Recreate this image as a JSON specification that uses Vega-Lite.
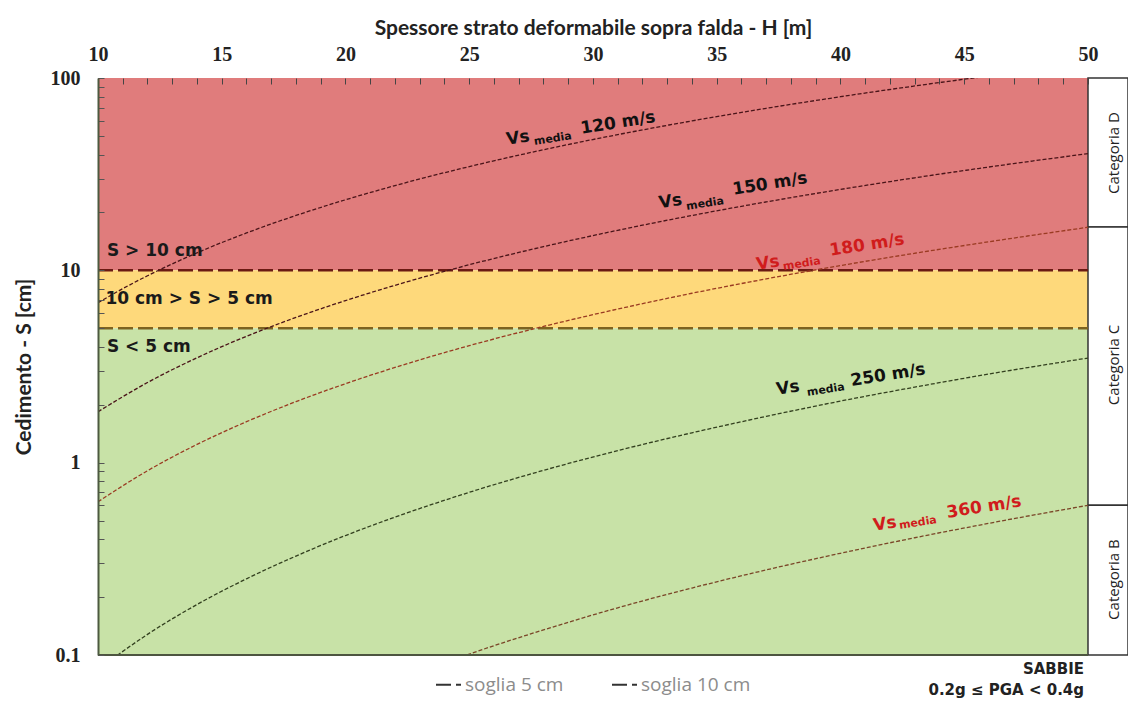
{
  "$schema": "https://vega.github.io/schema/vega-lite/v6.json",
  "autosize": "none",
  "padding": {"left": 98, "top": 78, "right": 0, "bottom": 46},
  "width": 1030,
  "height": 577,
  "background": "white",
  "config": {"view": {"stroke": null}, "axis": {"zindex": 1, "labelOverlap": false, "labelFlush": false, "grid": false}},
  "datasets": {
    "zones": [
      {"zona": "S > 10 cm", "S1": 10, "S2": 100},
      {"zona": "10 cm > S > 5 cm", "S1": 5, "S2": 10},
      {"zona": "S < 5 cm", "S1": 0.1, "S2": 5}
    ],
    "zoneLabels": [
      {"t": "S > 10 cm", "H": 10.36, "S": 12.6},
      {"t": "10 cm > S > 5 cm", "H": 10.3, "S": 7.13},
      {"t": "S < 5 cm", "H": 10.36, "S": 3.97}
    ],
    "categorie": [
      {"cat": "Categoria D", "S1": 16.8, "S2": 100, "S": 40.7},
      {"cat": "Categoria C", "S1": 0.6, "S2": 16.8, "S": 3.22},
      {"cat": "Categoria B", "S1": 0.1, "S2": 0.6, "S": 0.2466}
    ],
    "soglie": [
      {"soglia": "soglia 5 cm", "S": 5},
      {"soglia": "soglia 10 cm", "S": 10}
    ],
    "curve": [
      {"vs": "120", "H": 10, "S": 6.78}, {"vs": "120", "H": 11, "S": 8.03}, {"vs": "120", "H": 12, "S": 9.37},
      {"vs": "120", "H": 14, "S": 12.33}, {"vs": "120", "H": 16, "S": 15.64}, {"vs": "120", "H": 18, "S": 19.29},
      {"vs": "120", "H": 20, "S": 23.27}, {"vs": "120", "H": 22, "S": 27.58}, {"vs": "120", "H": 25, "S": 34.62},
      {"vs": "120", "H": 28, "S": 42.37}, {"vs": "120", "H": 31, "S": 50.77}, {"vs": "120", "H": 34, "S": 59.84},
      {"vs": "120", "H": 37, "S": 69.58}, {"vs": "120", "H": 40, "S": 79.92}, {"vs": "120", "H": 43, "S": 90.9},
      {"vs": "120", "H": 46, "S": 102.5},
      {"vs": "150", "H": 10, "S": 1.84}, {"vs": "150", "H": 12, "S": 2.61}, {"vs": "150", "H": 14, "S": 3.51},
      {"vs": "150", "H": 16, "S": 4.54}, {"vs": "150", "H": 18, "S": 5.69}, {"vs": "150", "H": 20, "S": 6.96},
      {"vs": "150", "H": 22, "S": 8.36}, {"vs": "150", "H": 25, "S": 10.69}, {"vs": "150", "H": 28, "S": 13.28},
      {"vs": "150", "H": 31, "S": 16.15}, {"vs": "150", "H": 34, "S": 19.29}, {"vs": "150", "H": 37, "S": 22.69},
      {"vs": "150", "H": 40, "S": 26.35}, {"vs": "150", "H": 43, "S": 30.27}, {"vs": "150", "H": 46, "S": 34.46},
      {"vs": "150", "H": 50, "S": 40.44},
      {"vs": "180", "H": 10, "S": 0.626}, {"vs": "180", "H": 12, "S": 0.908}, {"vs": "180", "H": 14, "S": 1.244},
      {"vs": "180", "H": 16, "S": 1.633}, {"vs": "180", "H": 18, "S": 2.077}, {"vs": "180", "H": 20, "S": 2.574},
      {"vs": "180", "H": 22, "S": 3.127}, {"vs": "180", "H": 25, "S": 4.059}, {"vs": "180", "H": 28, "S": 5.11},
      {"vs": "180", "H": 31, "S": 6.29}, {"vs": "180", "H": 34, "S": 7.6}, {"vs": "180", "H": 37, "S": 9.03},
      {"vs": "180", "H": 40, "S": 10.59}, {"vs": "180", "H": 43, "S": 12.27}, {"vs": "180", "H": 46, "S": 14.08},
      {"vs": "180", "H": 50, "S": 16.75},
      {"vs": "250", "H": 10, "S": 0.0837}, {"vs": "250", "H": 10.8, "S": 0.1}, {"vs": "250", "H": 12, "S": 0.128},
      {"vs": "250", "H": 14, "S": 0.183}, {"vs": "250", "H": 16, "S": 0.249}, {"vs": "250", "H": 18, "S": 0.327},
      {"vs": "250", "H": 20, "S": 0.418}, {"vs": "250", "H": 22, "S": 0.521}, {"vs": "250", "H": 25, "S": 0.701},
      {"vs": "250", "H": 28, "S": 0.912}, {"vs": "250", "H": 31, "S": 1.155}, {"vs": "250", "H": 34, "S": 1.43},
      {"vs": "250", "H": 37, "S": 1.74}, {"vs": "250", "H": 40, "S": 2.09}, {"vs": "250", "H": 43, "S": 2.47},
      {"vs": "250", "H": 46, "S": 2.89}, {"vs": "250", "H": 50, "S": 3.5},
      {"vs": "360", "H": 24, "S": 0.091}, {"vs": "360", "H": 24.9, "S": 0.1}, {"vs": "360", "H": 26, "S": 0.1118},
      {"vs": "360", "H": 28, "S": 0.135}, {"vs": "360", "H": 31, "S": 0.176}, {"vs": "360", "H": 34, "S": 0.223},
      {"vs": "360", "H": 37, "S": 0.277}, {"vs": "360", "H": 40, "S": 0.338}, {"vs": "360", "H": 43, "S": 0.407},
      {"vs": "360", "H": 46, "S": 0.484}, {"vs": "360", "H": 50, "S": 0.6}
    ],
    "etichette": [
      {"vs": "120", "part": "Vs", "t": "Vs", "H": 26.97, "S": 48.75},
      {"vs": "120", "part": "media", "t": "media", "H": 28.38, "S": 48.17},
      {"vs": "120", "part": "speed", "t": "120 m/s", "H": 31.01, "S": 58.35},
      {"vs": "150", "part": "Vs", "t": "Vs", "H": 33.13, "S": 22.79},
      {"vs": "150", "part": "media", "t": "media", "H": 34.53, "S": 22.13},
      {"vs": "150", "part": "speed", "t": "150 m/s", "H": 37.15, "S": 28.11},
      {"vs": "180", "part": "Vs", "t": "Vs", "H": 37.07, "S": 10.91},
      {"vs": "180", "part": "media", "t": "media", "H": 38.44, "S": 10.78},
      {"vs": "180", "part": "speed", "t": "180 m/s", "H": 41.07, "S": 13.54},
      {"vs": "250", "part": "Vs", "t": "Vs", "H": 37.88, "S": 2.443},
      {"vs": "250", "part": "media", "t": "media", "H": 39.41, "S": 2.385},
      {"vs": "250", "part": "speed", "t": "250 m/s", "H": 41.92, "S": 2.854},
      {"vs": "360", "part": "Vs", "t": "Vs", "H": 41.8, "S": 0.4794},
      {"vs": "360", "part": "media", "t": "media", "H": 43.13, "S": 0.4852},
      {"vs": "360", "part": "speed", "t": "360 m/s", "H": 45.8, "S": 0.5876}
    ],
    "note": [
      {"t": "SABBIE", "S": 0.0845},
      {"t": "0.2g ≤ PGA < 0.4g", "S": 0.0657}
    ]
  },
  "layer": [
    {
      "data": {"name": "zones"},
      "mark": {"type": "rect"},
      "encoding": {
        "x": {"datum": 10, "type": "quantitative", "scale": {"domain": [10, 51.6162], "nice": false, "zero": false},
          "axis": {"orient": "top", "values": [10,11,12,13,14,15,16,17,18,19,20,21,22,23,24,25,26,27,28,29,30,31,32,33,34,35,36,37,38,39,40,41,42,43,44,45,46,47,48,49,50], "labelExpr": "datum.value % 5 === 0 ? datum.label : ''", "domain": false, "grid": false, "zindex": 1, "tickSize": -6, "tickColor": "#444444", "tickWidth": 1, "labelFont": "Liberation Serif", "labelFontWeight": "bold", "labelFontSize": 20, "labelColor": "#222222", "labelPadding": 20, "labelOverlap": false, "labelFlush": false, "title": "Spessore strato deformabile sopra falda - H [m]", "titleFont": "Lato", "titleFontSize": 21, "titleFontWeight": "bold", "titleColor": "#222222", "titlePadding": 6, "titleX": 495}},
        "x2": {"datum": 50},
        "y": {"field": "S1", "type": "quantitative", "scale": {"type": "log", "domain": [0.1, 100], "nice": false},
          "axis": {"orient": "left", "values": [0.1,0.2,0.3,0.4,0.5,0.6,0.7,0.8,0.9,1,2,3,4,5,6,7,8,9,10,20,30,40,50,60,70,80,90,100],
            "format": "~g", "labelExpr": "indexof([0.1,1,10,100], datum.value) >= 0 ? datum.label : ''",
            "domainColor": "#4d5a40", "domainWidth": 2, "tickSize": -6, "tickColor": "#555555", "grid": false, "zindex": 1,
            "labelFont": "Liberation Serif", "labelFontWeight": "bold", "labelFontSize": 20, "labelColor": "#222222",
            "labelPadding": 24, "labelOverlap": false, "labelFlush": false,
            "title": "Cedimento - S [cm]", "titleFont": "Lato", "titleFontSize": 21, "titleFontWeight": "bold",
            "titleColor": "#222222", "titlePadding": 16}},
        "y2": {"field": "S2"},
        "fill": {"field": "zona", "type": "nominal", "legend": null,
          "scale": {"domain": ["S > 10 cm", "10 cm > S > 5 cm", "S < 5 cm"], "range": ["#E07C7C", "#FED97B", "#C8E2A7"]}}
      }
    },
    {
      "data": {"name": "categorie"},
      "mark": {"type": "rect", "fill": "white", "stroke": "#333333", "strokeWidth": 1.5},
      "encoding": {
        "x": {"datum": 50, "type": "quantitative",
          "axis": {"orient": "top", "values": [10,11,12,13,14,15,16,17,18,19,20,21,22,23,24,25,26,27,28,29,30,31,32,33,34,35,36,37,38,39,40,41,42,43,44,45,46,47,48,49,50], "labelExpr": "datum.value % 5 === 0 ? datum.label : ''", "domain": false, "grid": false, "zindex": 1, "tickSize": -6, "tickColor": "#444444", "tickWidth": 1, "labelFont": "Liberation Serif", "labelFontWeight": "bold", "labelFontSize": 20, "labelColor": "#222222", "labelPadding": 20, "labelOverlap": false, "labelFlush": false, "title": "Spessore strato deformabile sopra falda - H [m]", "titleFont": "Lato", "titleFontSize": 21, "titleFontWeight": "bold", "titleColor": "#222222", "titlePadding": 6, "titleX": 495}},
        "x2": {"datum": 51.6162},
        "y": {"field": "S1", "type": "quantitative"},
        "y2": {"field": "S2"}
      }
    },
    {
      "data": {"name": "soglie"},
      "mark": {"type": "rule", "strokeWidth": 2.5},
      "encoding": {
        "x": {"datum": 10, "type": "quantitative",
          "axis": {"orient": "top", "values": [10,11,12,13,14,15,16,17,18,19,20,21,22,23,24,25,26,27,28,29,30,31,32,33,34,35,36,37,38,39,40,41,42,43,44,45,46,47,48,49,50], "labelExpr": "datum.value % 5 === 0 ? datum.label : ''", "domain": false, "grid": false, "zindex": 1, "tickSize": -6, "tickColor": "#444444", "tickWidth": 1, "labelFont": "Liberation Serif", "labelFontWeight": "bold", "labelFontSize": 20, "labelColor": "#222222", "labelPadding": 20, "labelOverlap": false, "labelFlush": false, "title": "Spessore strato deformabile sopra falda - H [m]", "titleFont": "Lato", "titleFontSize": 21, "titleFontWeight": "bold", "titleColor": "#222222", "titlePadding": 6, "titleX": 495}},
        "x2": {"datum": 50},
        "y": {"field": "S", "type": "quantitative"},
        "stroke": {"condition": {"test": "datum.soglia === 'soglia 10 cm'", "value": "#6b1a12"}, "value": "#7d6320"},
        "strokeDash": {"field": "soglia", "type": "nominal",
          "scale": {"domain": ["soglia 5 cm", "soglia 10 cm"], "range": [[15, 5], [15, 5]]},
          "legend": {"orient": "none", "legendX": 337, "legendY": 593, "direction": "horizontal", "title": null,
            "symbolType": "stroke", "symbolSize": 625, "symbolStrokeColor": "#333333", "symbolStrokeWidth": 2,
            "labelFont": "Open Sans", "labelFontSize": 19,
            "labelColor": "#8c8c8c", "labelOffset": 3, "columnPadding": 44}}
      }
    },
    {
      "data": {"name": "curve"},
      "mark": {"type": "line", "strokeWidth": 1.3, "strokeDash": [4, 2], "interpolate": "monotone", "clip": true},
      "encoding": {
        "x": {"field": "H", "type": "quantitative",
          "axis": {"orient": "top", "values": [10,11,12,13,14,15,16,17,18,19,20,21,22,23,24,25,26,27,28,29,30,31,32,33,34,35,36,37,38,39,40,41,42,43,44,45,46,47,48,49,50], "labelExpr": "datum.value % 5 === 0 ? datum.label : ''", "domain": false, "grid": false, "zindex": 1, "tickSize": -6, "tickColor": "#444444", "tickWidth": 1, "labelFont": "Liberation Serif", "labelFontWeight": "bold", "labelFontSize": 20, "labelColor": "#222222", "labelPadding": 20, "labelOverlap": false, "labelFlush": false, "title": "Spessore strato deformabile sopra falda - H [m]", "titleFont": "Lato", "titleFontSize": 21, "titleFontWeight": "bold", "titleColor": "#222222", "titlePadding": 6, "titleX": 495}},
        "y": {"field": "S", "type": "quantitative"},
        "color": {"field": "vs", "type": "nominal", "legend": null,
          "scale": {"domain": ["120", "150", "180", "250", "360"], "range": ["#4a1419", "#4a1419", "#9a3b22", "#33401f", "#7a4628"]}}
      }
    },
    {
      "data": {"values": [{"b": 1}]},
      "mark": {"type": "rule", "color": "#4d5540", "strokeWidth": 2},
      "encoding": {
        "x": {"datum": 10, "type": "quantitative",
          "axis": {"orient": "top", "values": [10,11,12,13,14,15,16,17,18,19,20,21,22,23,24,25,26,27,28,29,30,31,32,33,34,35,36,37,38,39,40,41,42,43,44,45,46,47,48,49,50], "labelExpr": "datum.value % 5 === 0 ? datum.label : ''", "domain": false, "grid": false, "zindex": 1, "tickSize": -6, "tickColor": "#444444", "tickWidth": 1, "labelFont": "Liberation Serif", "labelFontWeight": "bold", "labelFontSize": 20, "labelColor": "#222222", "labelPadding": 20, "labelOverlap": false, "labelFlush": false, "title": "Spessore strato deformabile sopra falda - H [m]", "titleFont": "Lato", "titleFontSize": 21, "titleFontWeight": "bold", "titleColor": "#222222", "titlePadding": 6, "titleX": 495}},
        "x2": {"datum": 50},
        "y": {"datum": 0.1, "type": "quantitative"}
      }
    },
    {
      "data": {"name": "zoneLabels"},
      "mark": {"type": "text", "font": "DejaVu Sans", "fontWeight": "bold", "fontSize": 17, "align": "left", "baseline": "middle", "color": "#1a1a1a"},
      "encoding": {
        "x": {"field": "H", "type": "quantitative",
          "axis": {"orient": "top", "values": [10,11,12,13,14,15,16,17,18,19,20,21,22,23,24,25,26,27,28,29,30,31,32,33,34,35,36,37,38,39,40,41,42,43,44,45,46,47,48,49,50], "labelExpr": "datum.value % 5 === 0 ? datum.label : ''", "domain": false, "grid": false, "zindex": 1, "tickSize": -6, "tickColor": "#444444", "tickWidth": 1, "labelFont": "Liberation Serif", "labelFontWeight": "bold", "labelFontSize": 20, "labelColor": "#222222", "labelPadding": 20, "labelOverlap": false, "labelFlush": false, "title": "Spessore strato deformabile sopra falda - H [m]", "titleFont": "Lato", "titleFontSize": 21, "titleFontWeight": "bold", "titleColor": "#222222", "titlePadding": 6, "titleX": 495}},
        "y": {"field": "S", "type": "quantitative"},
        "text": {"field": "t"}
      }
    },
    {
      "data": {"name": "etichette"},
      "mark": {"type": "text", "font": "DejaVu Sans", "fontWeight": "bold", "angle": -9, "align": "center", "baseline": "middle"},
      "encoding": {
        "x": {"field": "H", "type": "quantitative",
          "axis": {"orient": "top", "values": [10,11,12,13,14,15,16,17,18,19,20,21,22,23,24,25,26,27,28,29,30,31,32,33,34,35,36,37,38,39,40,41,42,43,44,45,46,47,48,49,50], "labelExpr": "datum.value % 5 === 0 ? datum.label : ''", "domain": false, "grid": false, "zindex": 1, "tickSize": -6, "tickColor": "#444444", "tickWidth": 1, "labelFont": "Liberation Serif", "labelFontWeight": "bold", "labelFontSize": 20, "labelColor": "#222222", "labelPadding": 20, "labelOverlap": false, "labelFlush": false, "title": "Spessore strato deformabile sopra falda - H [m]", "titleFont": "Lato", "titleFontSize": 21, "titleFontWeight": "bold", "titleColor": "#222222", "titlePadding": 6, "titleX": 495}},
        "y": {"field": "S", "type": "quantitative"},
        "text": {"field": "t"},
        "size": {"condition": {"test": "datum.part === 'media'", "value": 11}, "value": 17},
        "color": {"condition": {"test": "datum.vs === '180' || datum.vs === '360'", "value": "#d01c1c"}, "value": "#111111"}
      }
    },
    {
      "data": {"name": "categorie"},
      "mark": {"type": "text", "font": "Open Sans", "fontSize": 15, "angle": 270, "align": "center", "baseline": "middle", "color": "#222222"},
      "encoding": {
        "x": {"datum": 51.07, "type": "quantitative",
          "axis": {"orient": "top", "values": [10,11,12,13,14,15,16,17,18,19,20,21,22,23,24,25,26,27,28,29,30,31,32,33,34,35,36,37,38,39,40,41,42,43,44,45,46,47,48,49,50], "labelExpr": "datum.value % 5 === 0 ? datum.label : ''", "domain": false, "grid": false, "zindex": 1, "tickSize": -6, "tickColor": "#444444", "tickWidth": 1, "labelFont": "Liberation Serif", "labelFontWeight": "bold", "labelFontSize": 20, "labelColor": "#222222", "labelPadding": 20, "labelOverlap": false, "labelFlush": false, "title": "Spessore strato deformabile sopra falda - H [m]", "titleFont": "Lato", "titleFontSize": 21, "titleFontWeight": "bold", "titleColor": "#222222", "titlePadding": 6, "titleX": 495}},
        "y": {"field": "S", "type": "quantitative"},
        "text": {"field": "cat"}
      }
    },
    {
      "data": {"name": "note"},
      "mark": {"type": "text", "font": "DejaVu Sans", "fontWeight": "bold", "fontSize": 15, "align": "right", "baseline": "middle", "color": "#222222"},
      "encoding": {
        "x": {"datum": 49.84, "type": "quantitative",
          "axis": {"orient": "top", "values": [10,11,12,13,14,15,16,17,18,19,20,21,22,23,24,25,26,27,28,29,30,31,32,33,34,35,36,37,38,39,40,41,42,43,44,45,46,47,48,49,50], "labelExpr": "datum.value % 5 === 0 ? datum.label : ''", "domain": false, "grid": false, "zindex": 1, "tickSize": -6, "tickColor": "#444444", "tickWidth": 1, "labelFont": "Liberation Serif", "labelFontWeight": "bold", "labelFontSize": 20, "labelColor": "#222222", "labelPadding": 20, "labelOverlap": false, "labelFlush": false, "title": "Spessore strato deformabile sopra falda - H [m]", "titleFont": "Lato", "titleFontSize": 21, "titleFontWeight": "bold", "titleColor": "#222222", "titlePadding": 6, "titleX": 495}},
        "y": {"field": "S", "type": "quantitative"},
        "text": {"field": "t"}
      }
    }
  ]
}
